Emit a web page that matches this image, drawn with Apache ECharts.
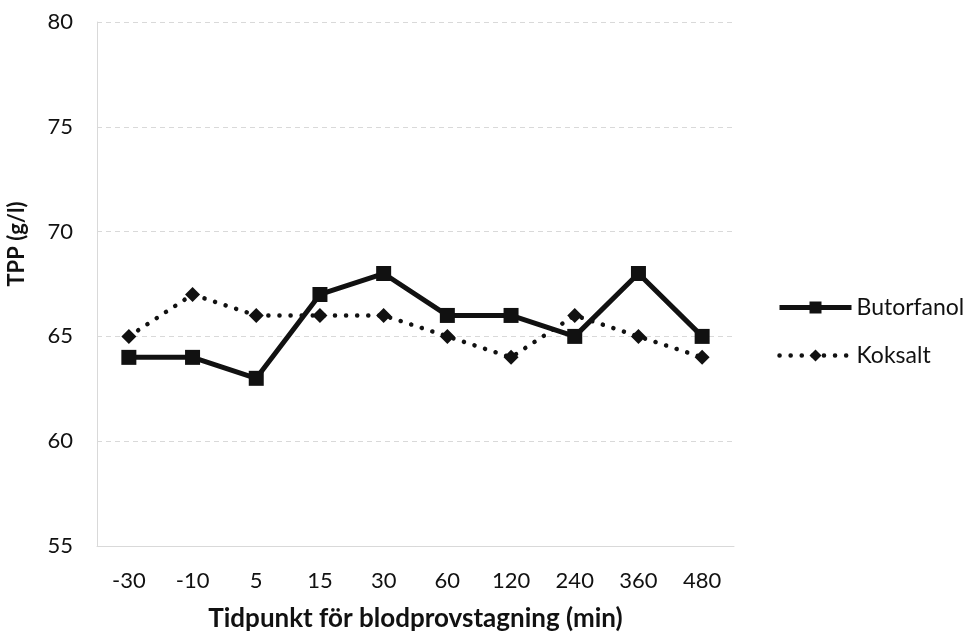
<!DOCTYPE html>
<html>
<head>
<meta charset="utf-8">
<script src="https://cdn.jsdelivr.net/npm/echarts@6/dist/echarts.min.js"></script>
<style>html,body{margin:0;padding:0;background:#fff}#c{width:973px;height:637px}</style>
</head>
<body>
<div id="c"></div>
<script>
var categories = ['-30', '-10', '5', '15', '30', '60', '120', '240', '360', '480'];
var butorfanol = [64, 64, 63, 67, 68, 66, 66, 65, 68, 65];
var koksalt = [65, 67, 66, 66, 66, 65, 64, 66, 65, 64];
var yTicks = [55, 60, 65, 70, 75, 80];

var FONT = 'Lato';
var chart = echarts.init(document.getElementById('c'), null, {renderer: 'canvas'});
chart.setOption({
  animation: false,
  backgroundColor: '#fff',
  grid: {left: 97, right: 239, top: 22, bottom: 90, containLabel: false},
  legend: {
    orient: 'vertical', left: 772, top: 291,
    itemWidth: 72, itemHeight: 15, itemGap: 25,
    lineStyle: {width: 'inherit'},
    textStyle: {fontFamily: FONT, fontSize: 23, color: '#111'},
    data: ['Butorfanol', 'Koksalt']
  },
  xAxis: {
    type: 'category', data: categories, boundaryGap: true,
    name: 'Tidpunkt för blodprovstagning (min)', nameLocation: 'middle', nameGap: 60,
    nameTextStyle: {fontFamily: FONT, fontSize: 26, fontWeight: 'bold', color: '#111'},
    axisLine: {show: true, lineStyle: {color: '#d9d9d9', width: 1}},
    axisTick: {show: false},
    axisLabel: {fontFamily: FONT, fontSize: 22, color: '#111', margin: 24},
    splitLine: {show: false}
  },
  yAxis: {
    type: 'value', min: 55, max: 80, interval: 5,
    axisLine: {show: true, lineStyle: {color: '#d9d9d9', width: 1}},
    axisTick: {show: false},
    axisLabel: {fontFamily: FONT, fontSize: 22, color: '#111', margin: 24,
      formatter: function (v) { return yTicks.indexOf(v) >= 0 ? String(v) : ''; }},
    splitLine: {show: true, lineStyle: {color: '#d9d9d9', type: [5, 4], width: 1}}
  },
  graphic: [{
    type: 'text', x: 17, y: 244, rotation: Math.PI / 2,
    style: {text: 'TPP (g/l)', fontFamily: FONT, fontSize: 22, fontWeight: 'bold', fill: '#111',
      align: 'center', verticalAlign: 'middle'}
  }],
  series: [{
    name: 'Butorfanol', type: 'line', data: butorfanol,
    symbol: 'rect', symbolSize: 15,
    lineStyle: {color: '#111', width: 5, type: 'solid'},
    itemStyle: {color: '#111'}
  }, {
    name: 'Koksalt', type: 'line', data: koksalt,
    symbol: 'diamond', symbolSize: 15,
    lineStyle: {color: '#111', width: 4.5, type: [0.1, 11], cap: 'round'},
    itemStyle: {color: '#111'}
  }]
});
</script>
</body>
</html>
